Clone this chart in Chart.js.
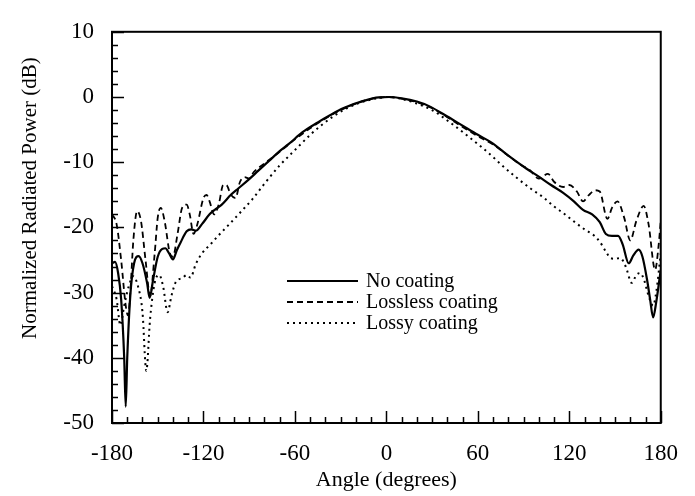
<!DOCTYPE html>
<html>
<head>
<meta charset="utf-8">
<script src="https://cdn.jsdelivr.net/npm/chart.js@4.4.1/dist/chart.umd.min.js"></script>
<style>
  html, body { margin: 0; padding: 0; background: #fff; }
  canvas { display: block; }
</style>
</head>
<body>
<canvas id="chart" width="695" height="496"></canvas>
<script>
// axis ranges and tick labels
const xTicks = [-180, -120, -60, 0, 60, 120, 180];
const yTicks = [-50, -40, -30, -20, -10, 0, 10];
const seriesNames = ['No coating', 'Lossless coating', 'Lossy coating'];

// No coating (solid)
const noCoatingAngle = [-180, -178, -176, -174, -172, -171, -170, -168, -165.5, -162.5, -160, -157, -155.3, -153, -150, -147, -145, -142.5, -140, -137.5, -135, -131, -128, -125, -121, -116, -112, -108, -102, -97, -90, -84, -77, -70, -64, -55, -45, -37, -28, -15, -5, 2, 10, 20, 28, 40, 50, 60, 69, 80, 92, 100, 108, 116, 123, 129, 135, 140, 144, 148, 152, 155, 159, 162, 165.5, 168, 171, 173, 175, 177, 180];
const noCoatingDb = [-25.5, -25.3, -27, -31, -40, -47.5, -40, -30.5, -25.5, -24.4, -25.5, -28.5, -30.8, -28, -24.5, -23.3, -23.2, -24, -24.9, -23.5, -22.3, -20.6, -20.3, -20.5, -19.5, -18, -17.2, -16.5, -15, -14, -12.6, -11.3, -9.8, -8.3, -7.2, -5.4, -3.9, -2.8, -1.7, -0.6, -0.05, 0, -0.2, -0.7, -1.4, -3.0, -4.4, -5.8, -7.0, -9.0, -11, -12.2, -13.5, -14.7, -16, -17.3, -18, -19.2, -21, -21.3, -21.3, -22.6, -25.5, -24.3, -23.4, -24.5, -28, -31, -33.8, -31.5, -26.5];

// Lossless coating (dashed)
const losslessAngle = [-180, -177, -174, -171, -169.5, -168, -166, -163.5, -161, -158, -155, -152, -150, -148, -145.5, -142, -140, -137, -134, -131, -129, -126.5, -124, -120, -118, -116, -113, -110, -107, -105, -102, -99, -96, -93, -90, -87, -80, -70, -60, -50, -40, -30, -20, -10, 0, 10, 20, 30, 40, 50, 60, 70, 80, 88, 94, 100, 106, 110, 116, 120, 125, 129, 133, 137, 140, 145, 148, 151.6, 156, 160, 164, 168.8, 172, 176.3, 178.5, 180];
const losslessDb = [-18, -19.5, -25, -32, -33.5, -30, -22, -17.5, -19, -25, -30.5, -24, -18.5, -17, -19, -24, -24.5, -21, -17, -16.5, -18, -21, -19.5, -15.5, -15, -16, -18, -16.5, -13.5, -13.5, -15, -15.5, -13, -12.3, -12.5, -11.5, -10.2, -8.4, -6.5, -4.8, -3.3, -2, -1, -0.3, 0, -0.25, -0.8, -1.7, -3.1, -4.6, -6, -7.3, -9, -10.4, -11.2, -12.5, -11.8, -13, -13.8, -13.5, -14.5, -16, -15, -14.3, -14.5, -18.7, -17, -16, -18.5, -22, -19, -16.7, -19.5, -26.5, -23, -19];

// Lossy coating (dotted)
const lossyAngle = [-180, -177, -174.5, -172, -169, -166, -163, -160, -157.5, -155, -152, -149, -146.5, -143.5, -141, -138, -134, -131, -128.5, -125, -121, -115, -110, -103, -95, -88, -80, -70, -62, -56, -50, -43, -35, -25, -15, -5, 2, 10, 20, 30, 40, 53.5, 62, 69, 75, 85, 95, 103, 110, 116, 122.6, 130, 136, 140, 144, 147, 150, 153.5, 157, 161, 164, 166.5, 169, 172, 175, 177, 180];
const lossyDb = [-29, -31, -35, -32, -29, -27.5, -29, -33, -42, -34, -28.5, -27.3, -29, -33, -30.5, -28.3, -27.8, -27.3, -27.7, -25.6, -24, -22.5, -21.2, -19.5, -17.5, -15.7, -13.3, -10.5, -8.6, -7.2, -5.8, -4.4, -3.0, -1.6, -0.7, -0.15, 0, -0.3, -1.0, -2.0, -3.6, -6, -7.6, -9, -10.3, -12.3, -14.1, -15.4, -16.8, -17.8, -19, -20.3, -21.2, -22.2, -23.7, -24.7, -24.8, -24.7, -26, -28.5, -27.3, -27, -28, -30.5, -32, -30, -24];

const serif = "'Liberation Serif', 'Times New Roman', serif";

function toPoints(xs, ys) {
    return xs.map(function (x, i) {
        return { x: x, y: ys[i] };
    });
}

// inward tick marks and the box round the plot
const frameTicks = {
    id: 'frameTicks',
    afterDatasetsDraw(chart) {
        const { ctx, chartArea: a, scales: { x, y } } = chart;
        ctx.save();
        ctx.strokeStyle = '#000';
        ctx.lineWidth = 1.5;
        ctx.beginPath();
        for (let v = xTicks[0]; v <= xTicks[xTicks.length - 1]; v += 10) {
            const px = Math.round(x.getPixelForValue(v)) + 0.5;
            const len = (v % 60 === 0) ? 12 : 6;
            ctx.moveTo(px, a.bottom);
            ctx.lineTo(px, a.bottom - len);
        }
        for (let v = yTicks[0]; v <= yTicks[yTicks.length - 1]; v += 2) {
            const py = Math.round(y.getPixelForValue(v)) + 0.5;
            const len = (v % 10 === 0) ? 12 : 6;
            ctx.moveTo(a.left, py);
            ctx.lineTo(a.left + len, py);
        }
        ctx.stroke();
        ctx.lineWidth = 2;
        ctx.strokeRect(a.left, a.top, a.width, a.height);
        ctx.restore();
    }
};

// legend inside the plot, plus the y axis title
const innerLegend = {
    id: 'innerLegend',
    afterDraw(chart) {
        const { ctx, chartArea: a } = chart;
        ctx.save();
        ctx.fillStyle = '#000';
        ctx.font = '20px ' + serif;
        ctx.textBaseline = 'middle';
        chart.data.datasets.forEach(function (ds, i) {
            const yy = 281 + i * 21;
            ctx.strokeStyle = '#000';
            ctx.lineWidth = ds.borderWidth;
            ctx.setLineDash(ds.borderDash || []);
            ctx.beginPath();
            ctx.moveTo(287, yy);
            ctx.lineTo(358, yy);
            ctx.stroke();
            ctx.setLineDash([]);
            ctx.fillText(ds.label, 366, yy + 1);
        });

        ctx.translate(30, a.top + a.height * 0.425);
        ctx.rotate(-Math.PI / 2);
        ctx.textAlign = 'center';
        ctx.font = '21px ' + serif;
        ctx.fillText('Normalized Radiated Power (dB)', 0, 0);
        ctx.restore();
    }
};

const ctx = document.getElementById('chart').getContext('2d');

new Chart(ctx, {
    type: 'line',
    data: {
        datasets: [
            {
                label: seriesNames[0],
                data: toPoints(noCoatingAngle, noCoatingDb),
                borderColor: '#000',
                borderWidth: 2.2
            },
            {
                label: seriesNames[1],
                data: toPoints(losslessAngle, losslessDb),
                borderColor: '#000',
                borderWidth: 1.8,
                borderDash: [6, 4]
            },
            {
                label: seriesNames[2],
                data: toPoints(lossyAngle, lossyDb),
                borderColor: '#000',
                borderWidth: 2,
                borderDash: [2, 4]
            }
        ]
    },
    options: {
        responsive: false,
        animation: false,
        // paddings are larger than the end-label overhang, so they set the plot box
        layout: { padding: { top: 25, right: 24, left: 0, bottom: 0 } },
        elements: {
            point: { radius: 0 },
            line: { cubicInterpolationMode: 'monotone', fill: false }
        },
        plugins: {
            legend: { display: false },
            tooltip: { enabled: false }
        },
        scales: {
            x: {
                type: 'linear',
                min: -180,
                max: 180,
                afterBuildTicks(scale) {
                    scale.ticks = xTicks.map(function (v) { return { value: v }; });
                },
                afterFit(scale) { scale.height = 73; },
                grid: { display: false, drawTicks: false },
                border: { display: false },
                ticks: {
                    color: '#000',
                    padding: 17,
                    maxRotation: 0,
                    font: { family: serif, size: 23 }
                },
                title: {
                    display: true,
                    text: 'Angle (degrees)',
                    color: '#000',
                    padding: { top: 0, bottom: 3 },
                    font: { family: serif, size: 22 }
                }
            },
            y: {
                min: -50,
                max: 10,
                afterBuildTicks(scale) {
                    scale.ticks = yTicks.map(function (v) { return { value: v }; });
                },
                afterFit(scale) { scale.width = 112; },
                grid: { display: false, drawTicks: false },
                border: { display: false },
                ticks: {
                    color: '#000',
                    padding: 18,
                    font: { family: serif, size: 23 }
                }
            }
        }
    },
    plugins: [frameTicks, innerLegend]
});
</script>
</body>
</html>
